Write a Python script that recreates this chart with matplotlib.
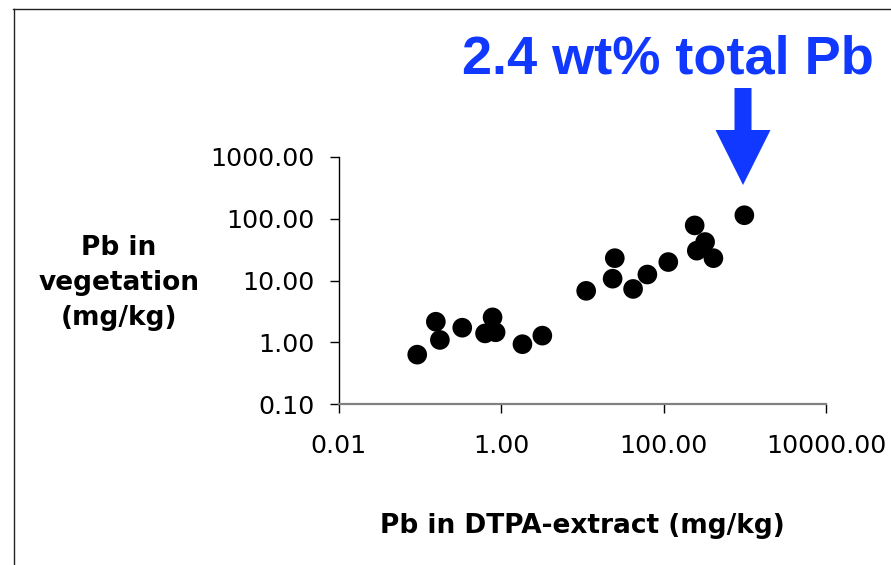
import matplotlib
matplotlib.use('Agg')
import matplotlib.pyplot as plt
from matplotlib.patches import FancyArrow
import numpy as np

# Pb w DTPA-extrakcie (x) a vo vegetacii (y), mg/kg
dtpa_pb = [0.092, 0.156, 0.175, 0.33, 0.63, 0.78, 0.85, 1.82, 3.2,
           11.1, 25.0, 23.5, 42.0, 63.0, 114.0, 241.0, 324.0, 256.0, 410.0, 986.0]
veg_pb = [0.63, 2.15, 1.09, 1.72, 1.39, 2.53, 1.45, 0.93, 1.28,
          6.8, 23.0, 10.7, 7.3, 12.5, 19.9, 78.0, 42.0, 30.4, 23.0, 114.0]

x_ticks = [0.01, 1, 100, 10000]
y_ticks = [0.1, 1, 10, 100, 1000]

title_text = '2.4 wt% total Pb'
x_label = 'Pb in DTPA-extract (mg/kg)'
y_label = 'Pb in\nvegetation\n(mg/kg)'

W, H = 891, 565
fig = plt.figure(figsize=(W / 100, H / 100), dpi=100)

# ramcek okolo celeho obrazku (vidno len hornu a lavu hranu)
fig.add_artist(plt.Line2D([13 / W, 1.0], [1 - 8.5 / H, 1 - 8.5 / H], color='#222222', lw=1.0))
fig.add_artist(plt.Line2D([13.5 / W, 13.5 / W], [0.0, 1 - 8.5 / H], color='#222222', lw=1.0))

ax = fig.add_axes([339 / W, (H - 404) / H, (826 - 339) / W, (404 - 157) / H])
ax.scatter(dtpa_pb, veg_pb, s=200, c='black', edgecolors='none', zorder=3, clip_on=False)

ax.set_xscale('log')
ax.set_yscale('log')
ax.set_xlim(x_ticks[0], x_ticks[-1])
ax.set_ylim(y_ticks[0], y_ticks[-1])
ax.set_xticks(x_ticks)
ax.set_yticks(y_ticks)
ax.set_xticklabels(['%.2f' % v for v in x_ticks])
ax.set_yticklabels(['%.2f' % v for v in y_ticks])
ax.minorticks_off()

ax.spines['top'].set_visible(False)
ax.spines['right'].set_visible(False)
ax.spines['bottom'].set_color('#808080')
ax.spines['bottom'].set_linewidth(1.6)
ax.spines['left'].set_color('black')
ax.spines['left'].set_linewidth(1.0)

ax.tick_params(axis='both', direction='out', length=6.5, width=1.0, colors='black',
               labelsize=18.3, labelcolor='black')
ax.tick_params(axis='y', pad=11)
ax.tick_params(axis='x', pad=15)
ax.xaxis.get_major_ticks()[-1].tick1line.set_color('#808080')

ax.set_xlabel(x_label, fontsize=19, fontweight='bold', labelpad=40)

fig.text(119 / W, 1 - 283 / H, y_label, fontsize=19, fontweight='bold',
         ha='center', va='center', linespacing=1.45)

blue = '#1038ff'
fig.text(668 / W, 1 - 73 / H, title_text, fontsize=39, fontweight='bold',
         family='Liberation Sans', color=blue, ha='center', va='baseline')

# sipka smerom dole k bodu s 2.4 wt% Pb
arrow = FancyArrow(743 / W, 1 - 88 / H, 0, -(185 - 88) / H, width=17 / W,
                   head_width=55 / W, head_length=55 / H, length_includes_head=True,
                   color=blue, transform=fig.transFigure, linewidth=0)
fig.add_artist(arrow)

fig.savefig('out.png', dpi=100)
